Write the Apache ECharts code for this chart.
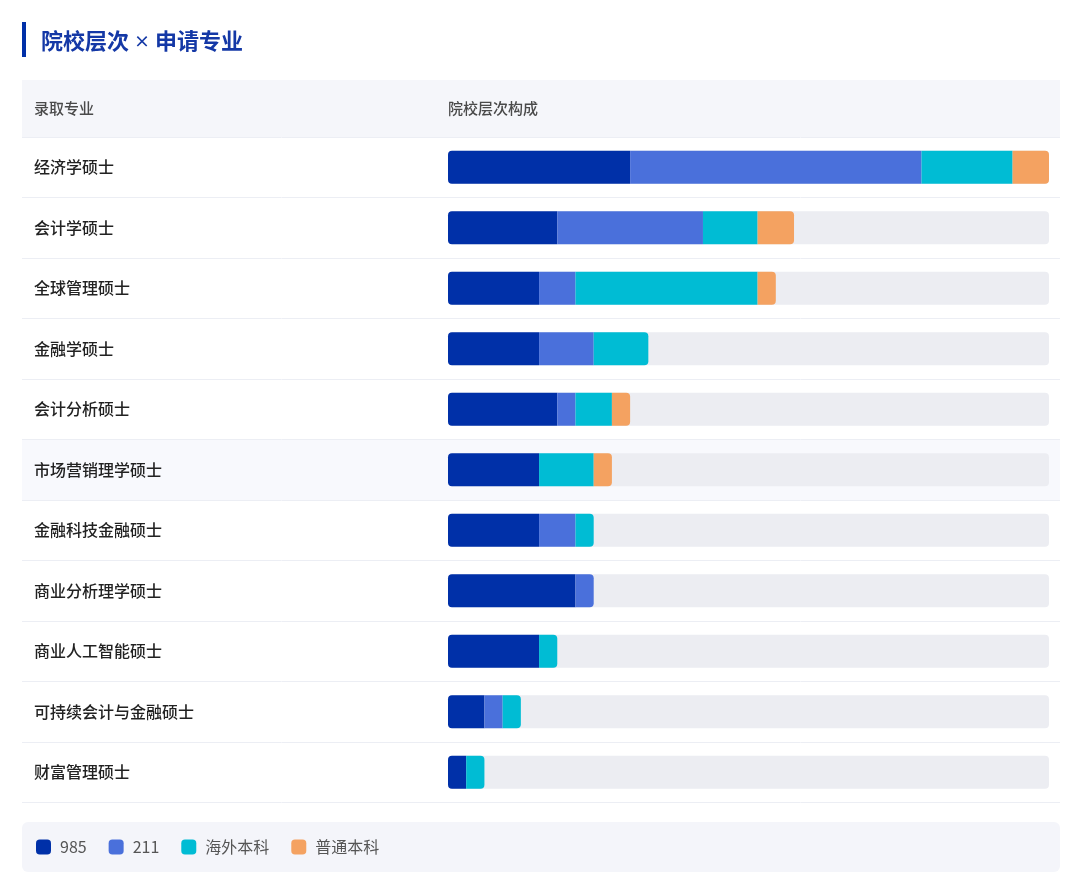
<!DOCTYPE html>
<html>
<head>
<meta charset="utf-8">
<title>院校层次 × 申请专业</title>
<script src="https://cdn.jsdelivr.net/npm/echarts@6/dist/echarts.min.js"></script>
<style>
  html, body { margin: 0; padding: 0; background: #fff; }
  #main { width: 1080px; height: 890px; }
</style>
</head>
<body>
<div id="main"></div>
<script>
// 录取专业（从上到下）
var majors = ['经济学硕士', '会计学硕士', '全球管理硕士', '金融学硕士', '会计分析硕士',
  '市场营销理学硕士', '金融科技金融硕士', '商业分析理学硕士', '商业人工智能硕士',
  '可持续会计与金融硕士', '财富管理硕士'];
// 各院校层次人数
var tierNames = ['985', '211', '海外本科', '普通本科'];
var v985 = [10, 6, 5, 5, 6, 5, 5, 7, 5, 2, 1];
var v211 = [16, 8, 2, 3, 1, 0, 2, 1, 0, 1, 0];
var vOverseas = [5, 3, 10, 3, 2, 3, 1, 0, 1, 1, 1];
var vNormal = [2, 2, 1, 0, 1, 1, 0, 0, 0, 0, 0];
var maxTotal = 33;

var colors = ['#0030A8', '#4A70DB', '#00BCD4', '#F4A261'];
var font = '"Noto Sans CJK SC", "Noto Sans", sans-serif';

var dom = document.getElementById('main');
var myChart = echarts.init(dom);

var all = [v985, v211, vOverseas, vNormal];
// 找出每行最后一个非零的段，给它加右侧圆角
function buildData (k) {
  return all[k].map(function (v, i) {
    var last = 0;
    for (var j = 0; j < all.length; j++) {
      if (all[j][i] > 0) last = j;
    }
    var r = [0, 0, 0, 0];
    if (k === 0) { r[0] = 4; r[3] = 4; }
    if (k === last) { r[1] = 4; r[2] = 4; }
    return { value: v, itemStyle: { borderRadius: r } };
  });
}

var series = tierNames.map(function (name, k) {
  var s = {
    name: name,
    type: 'bar',
    stack: 'tier',
    xAxisIndex: 1,
    yAxisIndex: 1,
    barWidth: 33,
    itemStyle: { color: colors[k] },
    data: buildData(k)
  };
  if (k === 0) {
    s.showBackground = true;
    s.backgroundStyle = { color: '#ECEDF2', borderRadius: 4 };
  }
  return s;
});

// 第6行浅色高亮
var rowColors = majors.map(function (m, i) {
  return i === 5 ? '#F8F9FD' : 'rgba(0,0,0,0)';
});

var option = {
  animation: false,
  title: [
    {
      text: '院校层次 {x|×} 申请专业',
      left: 36, top: 25,
      textStyle: {
        fontFamily: font, fontSize: 22, fontWeight: 'bold', color: '#1438A6',
        rich: { x: { fontFamily: font, fontSize: 16, fontWeight: 'bold', color: '#1438A6' } }
      }
    },
    {
      text: '录取专业',
      left: 29, top: 96,
      textStyle: { fontFamily: font, fontSize: 15, fontWeight: 500, color: '#4a4a4a' }
    },
    {
      text: '院校层次构成',
      left: 443, top: 96,
      textStyle: { fontFamily: font, fontSize: 15, fontWeight: 500, color: '#4a4a4a' }
    }
  ],
  graphic: [
    { type: 'rect', left: 22, top: 22, shape: { width: 4, height: 35 }, style: { fill: '#0030A8' } },
    { type: 'rect', left: 22, top: 80, z: -10, shape: { width: 1038, height: 57 }, style: { fill: '#F5F6FA' } },
    { type: 'rect', left: 22, top: 822, z: -10, shape: { width: 1038, height: 50, r: 6 }, style: { fill: '#F4F5FA' } }
  ],
  legend: {
    data: tierNames,
    left: 31, top: 834,
    itemWidth: 15, itemHeight: 15, itemGap: 22,
    icon: 'roundRect',
    textStyle: { fontFamily: font, fontSize: 16, color: '#555', padding: [0, 0, 0, 4] }
  },
  grid: [
    { left: 22, right: 20, top: 137, bottom: 87.5 },
    { left: 448, right: 31, top: 137, bottom: 87.5 }
  ],
  xAxis: [
    { gridIndex: 0, type: 'value', min: 0, max: 1, show: false },
    { gridIndex: 1, type: 'value', min: 0, max: maxTotal, show: false }
  ],
  yAxis: [
    {
      gridIndex: 0,
      type: 'category',
      inverse: true,
      data: majors,
      axisLine: { show: false },
      axisTick: { show: false },
      axisLabel: {
        inside: true, margin: 12,
        fontFamily: font, fontSize: 16, fontWeight: 500, color: '#222'
      },
      splitLine: { show: true, lineStyle: { color: '#ECEEF4', width: 1 } },
      splitArea: { show: true, areaStyle: { color: rowColors } }
    },
    {
      gridIndex: 1,
      type: 'category',
      inverse: true,
      data: majors,
      show: false
    }
  ],
  series: series
};

myChart.setOption(option);
window.onresize = myChart.resize;
</script>
</body>
</html>
